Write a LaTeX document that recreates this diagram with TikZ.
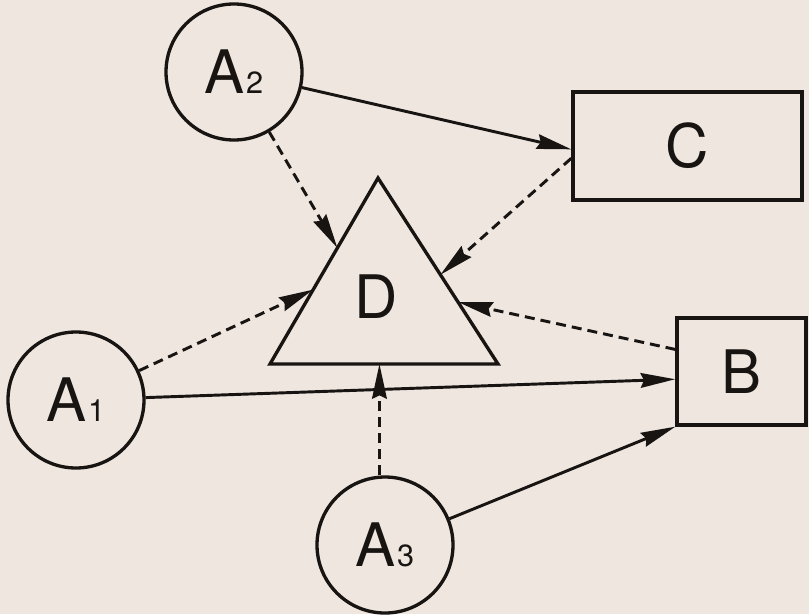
\documentclass[tikz,border=0pt]{standalone}
\usepackage{fontspec}
\setmainfont{TeX Gyre Heros}
\usetikzlibrary{arrows.meta,calc}
\definecolor{paper}{RGB}{238,230,223}
\definecolor{ink}{RGB}{24,20,18}
% big letter with a small subscript digit
\newcommand\biglabel[1]{{\fontsize{45}{45}\selectfont #1}}
\newcommand\actorlabel[2]{\biglabel{#1}\kern1pt{\fontsize{23}{23}\selectfont #2}}
\begin{document}
\begin{tikzpicture}[x=0.75pt,y=-0.75pt,
  actor/.style={circle,draw=ink,line width=2.5pt,minimum size=102pt,inner sep=0pt,text=ink},
  box/.style={rectangle,draw=ink,line width=2.5pt,inner sep=0pt,text=ink},
  link/.style={draw=ink,line width=2.2pt,-{Stealth[length=26pt,width=11pt,inset=2.5pt]}},
  dashlink/.style={link,dash pattern=on 7.5pt off 4.5pt}]
\fill[paper] (0,0) rectangle (809,614);
\useasboundingbox (0,0) rectangle (809,614);

% actors
\node[actor] (A2) at (234,72)  {\actorlabel{A}{2}};
\node[actor] (A1) at (76,400)  {\actorlabel{A}{1}};
\node[actor] (A3) at (385,545) {\actorlabel{A}{3}};

% boxes
\node[box,minimum width=171.75pt,minimum height=81pt] (C) at (687.5,146) {\biglabel{C}};
\node[box,minimum width=96.75pt,minimum height=80.25pt] (B) at (741.5,371.5) {\biglabel{B}};

% triangle D
\coordinate (Dt) at (378,178);
\coordinate (Dl) at (270,364);
\coordinate (Dr) at (498,364);
\draw[ink,line width=2.5pt,line join=miter] (Dt) -- (Dl) -- (Dr) -- cycle;
\node[text=ink] (D) at (376,297) {\biglabel{D}};
\coordinate (Dbase) at ($(Dl)!0.48!(Dr)$);

% connectors
\draw[link] (A2) -- ($(C.north west)!0.53!(C.south west)$);
\draw[dashlink] (A2) -- ($(Dt)!0.376!(Dl)$);
\draw[dashlink] ($(C.north west)!0.61!(C.south west)$) -- ($(Dt)!0.52!(Dr)$);
\draw[dashlink] (A1) -- ($(Dt)!0.60!(Dl)$);
\draw[dashlink] ($(B.north west)!0.30!(B.south west)$) -- ($(Dt)!0.667!(Dr)$);
\draw[link] (A1) -- ($(B.north west)!0.57!(B.south west)$);
\draw[dashlink] (A3.north -| Dbase) -- (Dbase);
\draw[link] (A3) -- (B.south west);
\end{tikzpicture}
\end{document}
